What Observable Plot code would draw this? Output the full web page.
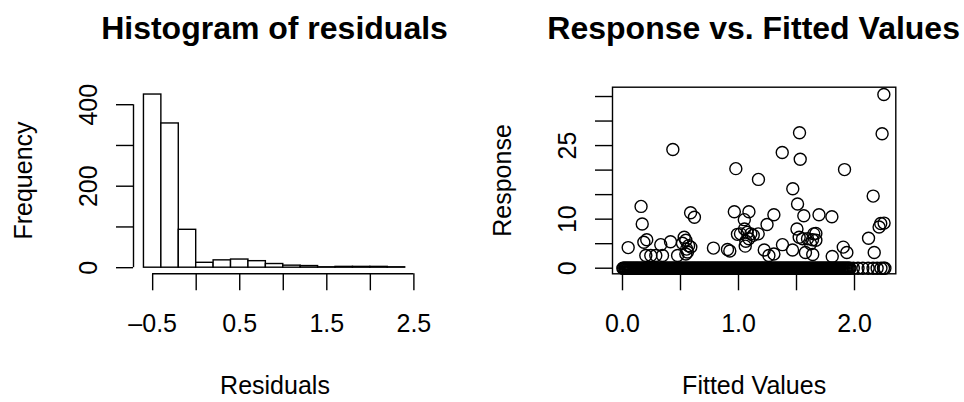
<!DOCTYPE html>
<html><head><meta charset="utf-8">
<script src="https://cdn.jsdelivr.net/npm/d3@7"></script>
<script src="https://cdn.jsdelivr.net/npm/@observablehq/plot@0.6"></script>
<style>
body{margin:0;background:#fff;}
#wrap{display:flex;width:964px;height:402px;font-family:"Liberation Sans",Arial,Helvetica,sans-serif;color:#000;}
.panel{width:482px;height:402px;position:relative;overflow:visible;}
.title{height:60px;box-sizing:border-box;padding-top:12px;display:flex;justify-content:center;font-weight:bold;font-size:32px;line-height:1;white-space:nowrap;}
svg{display:block;overflow:visible;}
</style></head><body>
<div id="wrap"><div class="panel" id="p1"></div><div class="panel" id="p2"></div></div>
<script>
// ---------- Histogram data ----------
const histBreaks = [-0.6,-0.4,-0.2,0,0.2,0.4,0.6,0.8,1.0,1.2,1.4,1.6,1.8,2.0,2.2,2.4];
const histCounts = [425,354,93,12,18,20,16,9,5,4,1,2,2,2,1];
const histXTicks = [-0.5,0,0.5,1,1.5,2,2.5];
const histXLabelValues = [-0.5,0.5,1.5,2.5];
const histXLabelText = ["\u20130.5","0.5","1.5","2.5"];
const histYTicks = [0,100,200,300,400];
const histYLabelValues = [0,200,400];

// ---------- Scatter data ----------
const zeroFitted = [
0.003,0.010,0.019,0.026,0.034,0.043,0.050,0.059,0.067,0.075,0.083,0.092,0.099,
0.108,0.116,0.124,0.131,0.140,0.148,0.157,0.165,0.172,0.181,0.189,0.197,
0.206,0.213,0.222,0.230,0.238,0.246,0.255,0.262,0.271,0.279,0.287,0.295,
0.304,0.311,0.320,0.328,0.336,0.344,0.353,0.360,0.369,0.377,0.385,0.393,
0.402,0.409,0.418,0.426,0.434,0.442,0.451,0.458,0.467,0.475,0.483,0.491,
0.500,0.507,0.516,0.524,0.532,0.540,0.549,0.556,0.565,0.573,0.581,0.589,
0.598,0.605,0.614,0.622,0.630,0.638,0.647,0.654,0.663,0.671,0.679,0.687,
0.696,0.703,0.712,0.720,0.728,0.736,0.745,0.752,0.761,0.769,0.777,0.785,
0.794,0.801,0.810,0.818,0.826,0.834,0.843,0.850,0.859,0.867,0.875,0.883,
0.892,0.899,0.908,0.916,0.924,0.932,0.941,0.948,0.957,0.965,0.973,0.981,
0.990,0.997,1.006,1.014,1.022,1.030,1.039,1.046,1.055,1.063,1.071,1.079,
1.088,1.095,1.104,1.112,1.120,1.128,1.137,1.144,1.153,1.161,1.169,1.177,
1.186,1.193,1.202,1.210,1.218,1.226,1.235,1.242,1.251,1.259,1.267,1.275,
1.284,1.291,1.300,1.308,1.316,1.324,1.333,1.340,1.349,1.357,1.365,1.373,
1.382,1.389,1.398,1.406,1.414,1.422,1.431,1.438,1.447,1.455,1.463,1.471,
1.480,1.487,1.496,1.504,1.512,1.520,1.529,1.536,1.545,1.553,1.561,1.569,
1.578,1.585,1.594,1.602,1.610,1.618,1.627,1.634,1.643,1.651,1.659,1.667,
1.676,1.683,1.692,1.700,1.708,1.716,1.725,1.732,1.741,1.749,1.757,1.765,
1.774,1.781,1.790,1.798,1.806,1.814,1.823,1.830,1.839,1.847,1.855,1.863,
1.872,1.879,1.888,1.896,1.904,1.912,1.921,1.928,1.937,1.945,1.953,1.961,
1.990,2.030,2.072,2.118,2.160,2.195,2.228,2.250,2.262];
const posFitted = [2.253,2.238,1.526,0.434,1.377,1.532,0.977,1.914,1.172,1.468,
2.161,1.509,0.160,0.964,1.090,0.587,0.620,1.305,1.563,1.694,1.805,1.050,0.170,1.246,
2.226,2.255,2.212,1.504,1.052,0.991,1.106,1.170,1.127,1.075,1.667,2.121,1.523,1.552,
1.595,1.649,1.638,1.667,0.532,0.546,0.517,0.209,0.184,0.414,0.330,1.063,1.089,1.058,
1.379,0.049,0.784,0.905,0.925,0.589,1.903,1.934,1.466,1.222,1.577,1.640,2.170,0.560,
0.201,0.244,0.287,0.345,0.475,1.262,1.305,1.808,0.546,0.570,0.553,1.017,1.621];
const posResponse = [35.4,27.4,27.6,24.2,23.6,22.2,20.3,20.1,18.1,16.2,
14.7,13.1,12.6,11.5,11.5,11.3,10.4,10.9,10.7,10.9,10.5,9.9,9.0,8.9,
9.1,9.2,8.4,8.0,8.0,6.9,7.0,7.0,6.7,7.3,7.1,6.1,6.3,6.0,
6.0,7.0,5.8,5.7,6.3,5.7,5.1,5.8,5.3,5.4,4.8,5.5,6.0,4.5,
4.8,4.2,4.1,3.8,3.5,4.3,4.3,3.2,3.7,3.7,3.2,2.8,3.2,3.3,
2.6,2.6,2.6,2.6,2.6,2.6,2.9,2.4,2.9,4.6,3.9,7.0,5.0];
const scXTicks = [0,0.5,1,1.5,2];
const scXLabelValues = [0,1,2];
const scXLabelText = ["0.0","1.0","2.0"];
const scYTicks = [0,5,10,15,20,25,30,35];
const scYLabelValues = [0,10,25];

// ---------- layout ----------
const FONT = "Liberation Sans, Arial, Helvetica, sans-serif";
const FS = 25;
const SVG_H = 342;
const LW = 1.4;

function panel(el, cfg) {
  const t = document.createElement("div");
  t.className = "title";
  t.style.marginLeft = cfg.marginLeft + "px";
  t.style.width = cfg.plotW + "px";
  t.textContent = cfg.title;
  el.appendChild(t);
  const svg = Plot.plot({
    width: 482, height: SVG_H,
    marginLeft: cfg.marginLeft, marginRight: 482 - cfg.marginLeft - cfg.plotW,
    marginTop: 26.7, marginBottom: 128.7,
    x: {domain: cfg.xDomain, axis: null},
    y: {domain: cfg.yDomain, axis: null},
    style: {fontFamily: FONT, fontSize: FS + "px", color: "black", background: "white", overflow: "visible"},
    marks: cfg.marks
  });
  el.appendChild(svg);
}

function axisTexts(xVals, xText, yVals, xTitle, yTitle) {
  return [
    Plot.text(xVals, {x: d => d, text: (d, i) => xText[i], frameAnchor: "bottom", dy: 50, lineAnchor: "middle", textAnchor: "middle", fontSize: FS}),
    Plot.text(yVals, {y: d => d, text: d => String(d), frameAnchor: "left", dx: -45, rotate: -90, lineAnchor: "middle", textAnchor: "middle", fontSize: FS}),
    Plot.text([xTitle], {text: d => d, frameAnchor: "bottom", dy: 112, lineAnchor: "middle", textAnchor: "middle", fontSize: FS}),
    Plot.text([yTitle], {text: d => d, frameAnchor: "left", dx: -110, rotate: -90, lineAnchor: "middle", textAnchor: "middle", fontSize: FS})
  ];
}

// Histogram
const bins = histCounts.map((c, i) => ({x1: histBreaks[i], x2: histBreaks[i + 1], count: c}));
const hXDom = [-0.72, 2.53], hYDom = [-15, 443];
panel(document.getElementById("p1"), {
  title: "Histogram of residuals", marginLeft: 133, plotW: 283,
  xDomain: hXDom, yDomain: hYDom,
  marks: [
    Plot.rect(bins, {x1: "x1", x2: "x2", y1: () => 0, y2: "count", fill: "white", stroke: "black", strokeWidth: LW}),
    Plot.ruleY([hYDom[0]], {x1: histXTicks[0], x2: histXTicks[histXTicks.length - 1], stroke: "black", strokeWidth: LW}),
    Plot.axisX({ticks: histXTicks, tickSize: 17, tickFormat: () => "", label: null, strokeWidth: LW}),
    Plot.ruleX([hXDom[0]], {y1: histYTicks[0], y2: histYTicks[histYTicks.length - 1], stroke: "black", strokeWidth: LW}),
    Plot.axisY({ticks: histYTicks, tickSize: 17, tickFormat: () => "", label: null, strokeWidth: LW}),
    ...axisTexts(histXLabelValues, histXLabelText, histYLabelValues, "Residuals", "Frequency")
  ]
});

// Scatter
const pts = zeroFitted.map(f => ({fitted: f, response: 0}))
  .concat(posFitted.map((f, i) => ({fitted: f, response: posResponse[i]})));
const sXDom = [-0.0862, 2.356], sYDom = [-1.14, 36.9];
panel(document.getElementById("p2"), {
  title: "Response vs. Fitted Values", marginLeft: 130, plotW: 283.3,
  xDomain: sXDom, yDomain: sYDom,
  marks: [
    Plot.dot(pts, {x: "fitted", y: "response", r: 6, fill: "none", stroke: "black", strokeWidth: LW}),
    Plot.frame({stroke: "black", strokeWidth: LW}),
    Plot.axisX({ticks: scXTicks, tickSize: 17, tickFormat: () => "", label: null, strokeWidth: LW}),
    Plot.axisY({ticks: scYTicks, tickSize: 17, tickFormat: () => "", label: null, strokeWidth: LW}),
    ...axisTexts(scXLabelValues, scXLabelText, scYLabelValues, "Fitted Values", "Response")
  ]
});
</script></body></html>
